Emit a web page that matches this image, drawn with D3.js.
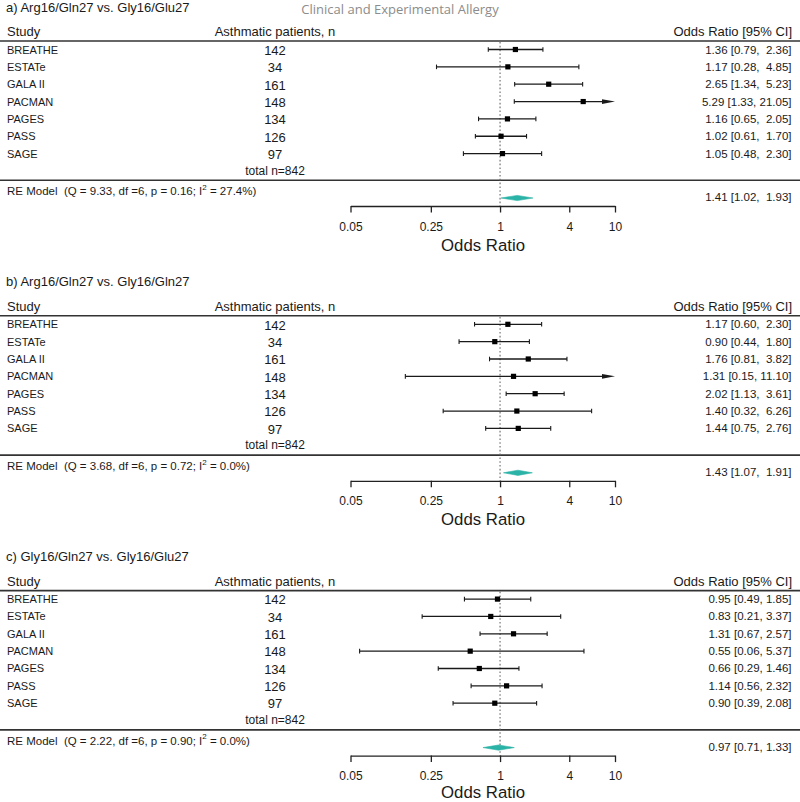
<!DOCTYPE html>
<html>
<head>
<meta charset="utf-8">
<script src="https://cdn.jsdelivr.net/npm/d3@7"></script>
<style>
  html, body { margin: 0; padding: 0; background: #fff; }
  svg { display: block; font-family: "Liberation Sans", Arial, sans-serif; }
  text { white-space: pre; }
</style>
</head>
<body>
<svg id="chart" width="800" height="802"></svg>
<script>
// ---------------- DATA ----------------
const studies = ["BREATHE", "ESTATe", "GALA II", "PACMAN", "PAGES", "PASS", "SAGE"];
const patients = [142, 34, 161, 148, 134, 126, 97];
const totalLabel = "total n=842";
const panelTitles = [
  "a) Arg16/Gln27 vs. Gly16/Glu27",
  "b) Arg16/Gln27 vs. Gly16/Gln27",
  "c) Gly16/Gln27 vs. Gly16/Glu27"
];
// panel a
const estA  = [1.36, 1.17, 2.65, 5.29, 1.16, 1.02, 1.05];
const lowA  = [0.79, 0.28, 1.34, 1.33, 0.65, 0.61, 0.48];
const highA = [2.36, 4.85, 5.23, 21.05, 2.05, 1.70, 2.30];
// panel b
const estB  = [1.17, 0.90, 1.76, 1.31, 2.02, 1.40, 1.44];
const lowB  = [0.60, 0.44, 0.81, 0.15, 1.13, 0.32, 0.75];
const highB = [2.30, 1.80, 3.82, 11.10, 3.61, 6.26, 2.76];
// panel c
const estC  = [0.95, 0.83, 1.31, 0.55, 0.66, 1.14, 0.90];
const lowC  = [0.49, 0.21, 0.67, 0.06, 0.29, 0.56, 0.39];
const highC = [1.85, 3.37, 2.57, 5.37, 1.46, 2.32, 2.08];
// random-effects summaries [est, low, high]
const reA = [1.41, 1.02, 1.93];
const reB = [1.43, 1.07, 1.91];
const reC = [0.97, 0.71, 1.33];
// heterogeneity text parts
const hetQ  = ["9.33", "3.68", "2.22"];
const hetP  = ["0.16", "0.72", "0.90"];
const hetI2 = ["27.4%", "0.0%", "0.0%"];
const hetDf = 6;
// axis
const tickValues = [0.05, 0.25, 1, 4, 10];
const tickLabels = ["0.05", "0.25", "1", "4", "10"];
const journal = "Clinical and Experimental Allergy";

const panels = [
  { title: panelTitles[0], est: estA, low: lowA, high: highA, re: reA, q: hetQ[0], p: hetP[0], i2: hetI2[0] },
  { title: panelTitles[1], est: estB, low: lowB, high: highB, re: reB, q: hetQ[1], p: hetP[1], i2: hetI2[1] },
  { title: panelTitles[2], est: estC, low: lowC, high: highC, re: reC, q: hetQ[2], p: hetP[2], i2: hetI2[2] }
];

// ---------------- DRAW ----------------
const W = 800, H = 802;
const svg = d3.select("#chart");
const x = d3.scaleLog().domain([0.05, 10]).range([350.5, 615]);
const xMin = 0.05, xMax = 10;
const f2 = d3.format(".2f");
const ink = "#1a1a1a";
const teal = "#2ab3a6";

// journal watermark
svg.append("text")
  .attr("x", 400).attr("y", 8.5)
  .attr("text-anchor", "middle").attr("dominant-baseline", "central")
  .attr("font-family", "'Open Sans', 'Noto Sans', sans-serif")
  .attr("font-size", 13).attr("fill", "#8c8c8c")
  .text(journal);

const panelStep = 274.8;
const rowStep = 17.35;

panels.forEach((P, pi) => {
  const top = pi * panelStep;
  const g = svg.append("g").attr("transform", `translate(0,${top})`);
  const rowY = i => 49.5 + i * rowStep;
  const n = studies.length;
  const totalY = rowY(n) - 0.3;
  const rule2Y = 180.3;
  const reY = 198;
  const axisY = 206;

  const allHigh = P.high.map(f2).concat([f2(P.re[2])]);
  const padW = d3.max(allHigh, s => s.length);
  const fmtCI = (e, l, h) => `${f2(e)} [${f2(l)}, ${f2(h).padStart(padW, " ")}]`;

  // title
  g.append("text").attr("x", 6).attr("y", 7)
    .attr("dominant-baseline", "central").attr("font-size", 13).attr("fill", ink)
    .text(P.title);

  // header
  g.append("text").attr("x", 7).attr("y", 31.8)
    .attr("dominant-baseline", "central").attr("font-size", 13).attr("fill", ink).text("Study");
  g.append("text").attr("x", 275).attr("y", 31.8).attr("text-anchor", "middle")
    .attr("dominant-baseline", "central").attr("font-size", 13).attr("fill", ink).text("Asthmatic patients, n");
  g.append("text").attr("x", 792).attr("y", 31.8).attr("text-anchor", "end")
    .attr("dominant-baseline", "central").attr("font-size", 13).attr("fill", ink).text("Odds Ratio [95% CI]");

  // rules
  g.append("line").attr("x1", 0).attr("x2", W).attr("y1", 41).attr("y2", 41)
    .attr("stroke", "#333").attr("stroke-width", 1.6);
  g.append("line").attr("x1", 0).attr("x2", W).attr("y1", rule2Y).attr("y2", rule2Y)
    .attr("stroke", "#333").attr("stroke-width", 1.6);

  // reference line at OR = 1
  g.append("line").attr("x1", x(1)).attr("x2", x(1)).attr("y1", 42).attr("y2", axisY)
    .attr("stroke", "#666").attr("stroke-width", 1.1).attr("stroke-dasharray", "1.6,2.2");

  // rows
  studies.forEach((s, i) => {
    const y = rowY(i);
    g.append("text").attr("x", 7).attr("y", y).attr("dominant-baseline", "central")
      .attr("font-size", 11).attr("fill", ink).text(s);
    g.append("text").attr("x", 275).attr("y", y + 0.8).attr("text-anchor", "middle")
      .attr("dominant-baseline", "central").attr("font-size", 13).attr("fill", ink).text(patients[i]);
    g.append("text").attr("x", 791.5).attr("y", y).attr("text-anchor", "end")
      .attr("dominant-baseline", "central").attr("font-size", 11.5).attr("fill", ink)
      .text(fmtCI(P.est[i], P.low[i], P.high[i]));

    const lo = Math.max(P.low[i], xMin), hi = Math.min(P.high[i], xMax);
    const arrowR = P.high[i] > xMax;
    const x1 = x(lo), x2 = x(hi);
    g.append("line").attr("x1", x1).attr("x2", arrowR ? x2 - 8 : x2).attr("y1", y).attr("y2", y)
      .attr("stroke", ink).attr("stroke-width", 1.3);
    if (P.low[i] >= xMin) {
      g.append("line").attr("x1", x1).attr("x2", x1).attr("y1", y - 2.3).attr("y2", y + 2.3)
        .attr("stroke", ink).attr("stroke-width", 1.1);
    }
    if (arrowR) {
      g.append("path")
        .attr("d", `M${x2 - 13},${y - 2.4}L${x2},${y}L${x2 - 13},${y + 2.4}Z`)
        .attr("fill", ink);
    } else {
      g.append("line").attr("x1", x2).attr("x2", x2).attr("y1", y - 2.3).attr("y2", y + 2.3)
        .attr("stroke", ink).attr("stroke-width", 1.1);
    }
    const sq = 5.2;
    g.append("rect").attr("x", x(P.est[i]) - sq / 2).attr("y", y - sq / 2)
      .attr("width", sq).attr("height", sq).attr("fill", "#000");
  });

  // total n
  g.append("text").attr("x", 275).attr("y", totalY).attr("text-anchor", "middle")
    .attr("dominant-baseline", "central").attr("font-size", 12).attr("fill", ink).text(totalLabel);

  // RE model label
  const reT = g.append("text").attr("x", 7).attr("y", 191.3)
    .attr("dominant-baseline", "central").attr("font-size", 11.5).attr("fill", ink);
  reT.append("tspan").text(`RE Model  (Q = ${P.q}, df =${hetDf}, p = ${P.p}; I`);
  reT.append("tspan").attr("font-size", 8).attr("dy", -4.5).text("2");
  reT.append("tspan").attr("dy", 4.5).text(` = ${P.i2})`);

  // RE right text
  g.append("text").attr("x", 791.5).attr("y", 197.3).attr("text-anchor", "end")
    .attr("dominant-baseline", "central").attr("font-size", 11.5).attr("fill", ink)
    .text(fmtCI(P.re[0], P.re[1], P.re[2]));

  // diamond
  const dh = 2.6;
  g.append("path")
    .attr("d", `M${x(P.re[1])},${reY}L${x(P.re[0])},${reY - dh}L${x(P.re[2])},${reY}L${x(P.re[0])},${reY + dh}Z`)
    .attr("fill", teal).attr("stroke", teal).attr("stroke-width", 0.6);

  // axis
  const axis = d3.axisBottom(x).tickValues(tickValues)
    .tickFormat((d, i) => tickLabels[i]).tickSizeInner(6.5).tickSizeOuter(0).tickPadding(9.5);
  const ag = g.append("g").attr("transform", `translate(0,${axisY})`).call(axis);
  ag.select(".domain").attr("stroke", "#222").attr("stroke-width", 1.3);
  ag.selectAll(".tick line").attr("stroke", "#222").attr("stroke-width", 1.3);
  ag.selectAll(".tick text").attr("font-size", 12).attr("fill", ink)
    .attr("font-family", "'Liberation Sans', Arial, sans-serif");

  // axis title (kept inside the page at the bottom)
  const fs = 16.8;
  const titleY = Math.min(245, (H - 0.3) - top - 0.5585 * fs);
  g.append("text").attr("x", x(1) - 17).attr("y", titleY).attr("text-anchor", "middle")
    .attr("dominant-baseline", "central").attr("font-size", fs).attr("fill", ink).text("Odds Ratio");
});
</script>
</body>
</html>
